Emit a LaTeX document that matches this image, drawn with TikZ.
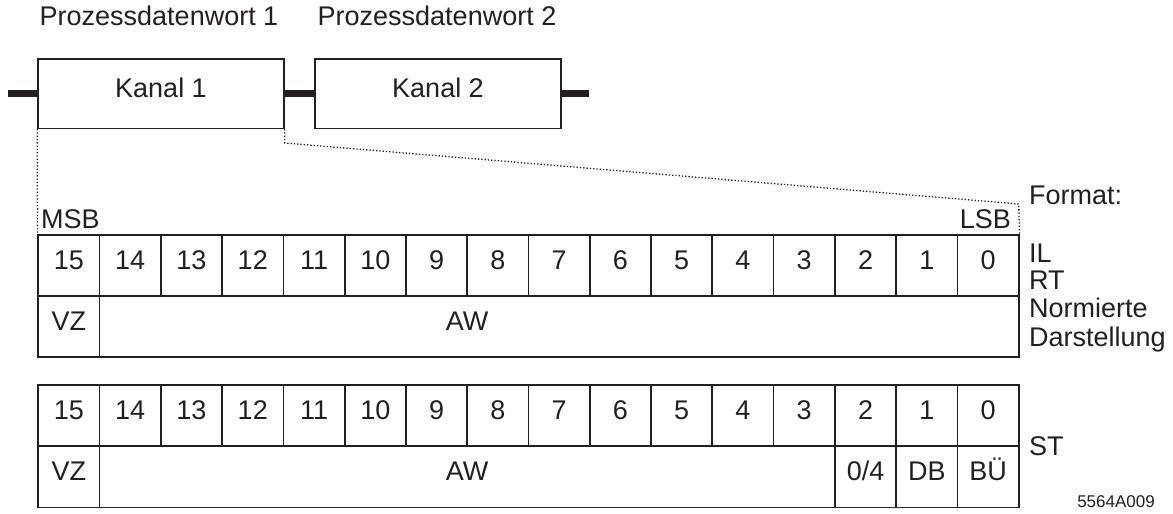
\documentclass[tikz,border=0pt]{standalone}
\usepackage{fontspec}
\setmainfont{Liberation Sans}
\definecolor{ink}{HTML}{231F20}
\begin{document}
\begin{tikzpicture}[x=1pt,y=-1pt,
  every node/.style={text=ink,font=\fontsize{27}{30}\selectfont},
  cell/.style={draw=ink,line width=1.7pt,inner sep=0pt,minimum height=61.2pt,text height=0.716em,text depth=0pt},
  kanal/.style={draw=ink,line width=1.5pt,inner sep=0pt,minimum width=246pt,minimum height=69.5pt,text height=0.716em,text depth=0pt},
  bus/.style={draw=ink,line width=7pt},
  guide/.style={draw=ink,line width=1.3pt,dotted},
  plain/.style={inner sep=0pt,text height=0.716em,text depth=0pt}]
\useasboundingbox (0,0) rectangle (1173,514);
\def\cw{61.275}
% top: channels
\node[plain] (pw1) at (159,22) {Prozessdatenwort 1};
\node[plain] (pw2) at (437,22) {Prozessdatenwort 2};
\node[kanal] (k1) at (161,93.5) {Kanal 1};
\node[kanal] (k2) at (438,93.5) {Kanal 2};
\coordinate (busL) at (8,93.5);
\coordinate (busR) at (589,93.5);
\draw[bus] (busL) -- (k1.west);
\draw[bus] (k1.east) -- (k2.west);
\draw[bus] (k2.east) -- (busR);
% table 1 row 1
\foreach \i in {0,...,15}{
  \pgfmathsetmacro\xx{38.3+(15-\i+0.5)*\cw}
  \node[cell,minimum width=\cw pt] (a\i) at (\xx,265.5) {\i};
}
% table 1 row 2
\node[cell,minimum width=\cw pt] (avz) at (38.3+0.5*\cw,326.7) {VZ};
\node[cell,minimum width=15*\cw pt] (aaw) at (38.3+8.5*\cw,326.7) {};
\node[plain] (aawt) at (467,326.7) {AW};
% table 2 row 1
\foreach \i in {0,...,15}{
  \pgfmathsetmacro\xx{38.3+(15-\i+0.5)*\cw}
  \node[cell,minimum width=\cw pt] (b\i) at (\xx,415.7) {\i};
}
% table 2 row 2
\node[cell,minimum width=\cw pt] (bvz) at (38.3+0.5*\cw,476.9) {VZ};
\node[cell,minimum width=12*\cw pt] (baw) at (38.3+7*\cw,476.9) {AW};
\node[cell,minimum width=\cw pt] (b04) at (38.3+13.5*\cw,476.9) {0/4};
\node[cell,minimum width=\cw pt] (bdb) at (38.3+14.5*\cw,476.9) {DB};
\node[cell,minimum width=\cw pt] (bbu) at (38.3+15.5*\cw,476.9) {BÜ};
% MSB / LSB
\node[plain,anchor=south west] (msb) at (41,229) {MSB};
\node[plain,anchor=south east] (lsb) at (1011,229) {LSB};
% dotted guides
\draw[guide] (k1.south west) -- (a15.north west);
\coordinate (g1) at (k1.south east |- 0,143);
\draw[guide] (k1.south east) -- (g1) -- (1018.7,204) -- (a0.north east);
% right labels
\node[plain,anchor=south west] (fmt) at (1029,205) {Format:};
\node[plain,anchor=south west] (il) at (1029,263) {IL};
\node[plain,anchor=south west] (rt) at (1029,290) {RT};
\node[plain,anchor=south west] (nor) at (1029,318) {Normierte};
\node[plain,anchor=south west] (dar) at (1029,347) {Darstellung};
\node[plain,anchor=south west] (st) at (1029,456) {ST};
\node[plain,anchor=south east,font=\fontsize{17}{19}\selectfont] (code) at (1155,508) {5564A009};
\end{tikzpicture}
\end{document}
